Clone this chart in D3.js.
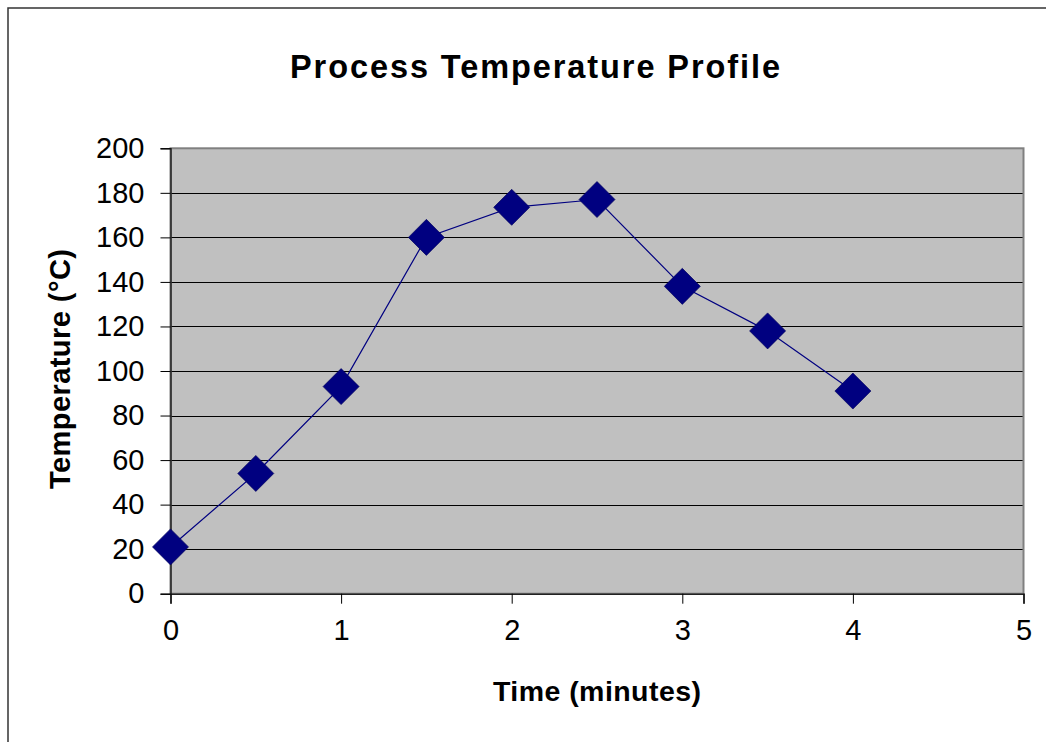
<!DOCTYPE html>
<html>
<head>
<meta charset="utf-8">
<script src="https://cdn.jsdelivr.net/npm/d3@7"></script>
<style>
  html, body { margin: 0; padding: 0; background: #fff; }
  svg { display: block; font-family: "Liberation Sans", Arial, sans-serif; }
</style>
</head>
<body>
<svg id="chart" width="1046" height="742"></svg>
<script>
// Time in minutes and measured temperature in °C
const times = [0, 0.5, 1, 1.5, 2, 2.5, 3, 3.5, 4];
const temps = [21, 54, 93, 160, 173.5, 177, 138, 118, 91];
const xTicks = [0, 1, 2, 3, 4, 5];
const yTicks = [0, 20, 40, 60, 80, 100, 120, 140, 160, 180, 200];

const chartTitle = "Process Temperature Profile";
const xTitle = "Time (minutes)";
const yTitle = "Temperature (°C)";

const svg = d3.select("#chart");

const plot = { left: 170.5, right: 1023.5, top: 148.3, bottom: 593.7 };

const x = d3.scaleLinear().domain([0, 5]).range([plot.left, plot.right]);
const y = d3.scaleLinear().domain([0, 200]).range([plot.bottom, plot.top]);

// outer chart frame
svg.append("rect")
  .attr("x", 8).attr("y", 8)
  .attr("width", 1100).attr("height", 800)
  .attr("fill", "#fff")
  .attr("stroke", "#333").attr("stroke-width", 1.5);

// plot area background
svg.append("rect")
  .attr("x", plot.left).attr("y", plot.top)
  .attr("width", plot.right - plot.left).attr("height", plot.bottom - plot.top)
  .attr("fill", "#c0c0c0");

// horizontal gridlines
svg.append("g")
  .selectAll("line")
  .data(yTicks.filter(t => t > 0 && t < 200))
  .join("line")
  .attr("x1", plot.left).attr("x2", plot.right)
  .attr("y1", d => Math.round(y(d)) + 0.5).attr("y2", d => Math.round(y(d)) + 0.5)
  .attr("stroke", "#000").attr("stroke-width", 1);

// plot area border
svg.append("rect")
  .attr("x", plot.left).attr("y", plot.top)
  .attr("width", plot.right - plot.left).attr("height", plot.bottom - plot.top)
  .attr("fill", "none")
  .attr("stroke", "#808080").attr("stroke-width", 2);

// axes
const yAxis = d3.axisLeft(y).tickValues(yTicks).tickSize(10).tickPadding(16).tickFormat(d3.format("d"));
const xAxis = d3.axisBottom(x).tickValues(xTicks).tickSize(10).tickPadding(13).tickFormat(d3.format("d"));

const gy = svg.append("g").attr("transform", `translate(${plot.left},0)`).call(yAxis);
const gx = svg.append("g").attr("transform", `translate(0,${plot.bottom})`).call(xAxis);

[gy, gx].forEach(g => {
  g.select(".domain").attr("stroke", "#222").attr("stroke-width", 1.5);
  g.selectAll(".tick line").attr("stroke", "#000").attr("stroke-width", 1);
  g.selectAll(".tick text")
    .attr("fill", "#000")
    .style("font-family", "'Liberation Sans', Arial, sans-serif")
    .style("font-size", "29px");
});
gx.selectAll(".tick text").attr("dy", "0.8em");

// data line
const line = d3.line().x((d, i) => x(times[i])).y(d => y(d));
svg.append("path")
  .datum(temps)
  .attr("d", line)
  .attr("fill", "none")
  .attr("stroke", "#000080")
  .attr("stroke-width", 1.2);

// diamond markers
const diamond = d3.symbol().type(d3.symbolSquare).size(650);
svg.append("g")
  .selectAll("path")
  .data(temps)
  .join("path")
  .attr("d", diamond)
  .attr("transform", (d, i) => `translate(${x(times[i])},${y(d)}) rotate(45)`)
  .attr("fill", "#000080")
  .attr("stroke", "#00005a")
  .attr("stroke-width", 0.6);

// titles
svg.append("text")
  .attr("x", 535).attr("y", 77.5)
  .attr("text-anchor", "middle")
  .attr("textLength", 490).attr("lengthAdjust", "spacing")
  .style("font-size", "32.5px").style("font-weight", "bold")
  .text(chartTitle);

svg.append("text")
  .attr("x", 597).attr("y", 700.5)
  .attr("text-anchor", "middle")
  .attr("textLength", 208).attr("lengthAdjust", "spacing")
  .style("font-size", "28.5px").style("font-weight", "bold")
  .text(xTitle);

svg.append("text")
  .attr("transform", "translate(70,369) rotate(-90)")
  .attr("text-anchor", "middle")
  .attr("textLength", 240).attr("lengthAdjust", "spacing")
  .style("font-size", "29px").style("font-weight", "bold")
  .text(yTitle);
</script>
</body>
</html>
